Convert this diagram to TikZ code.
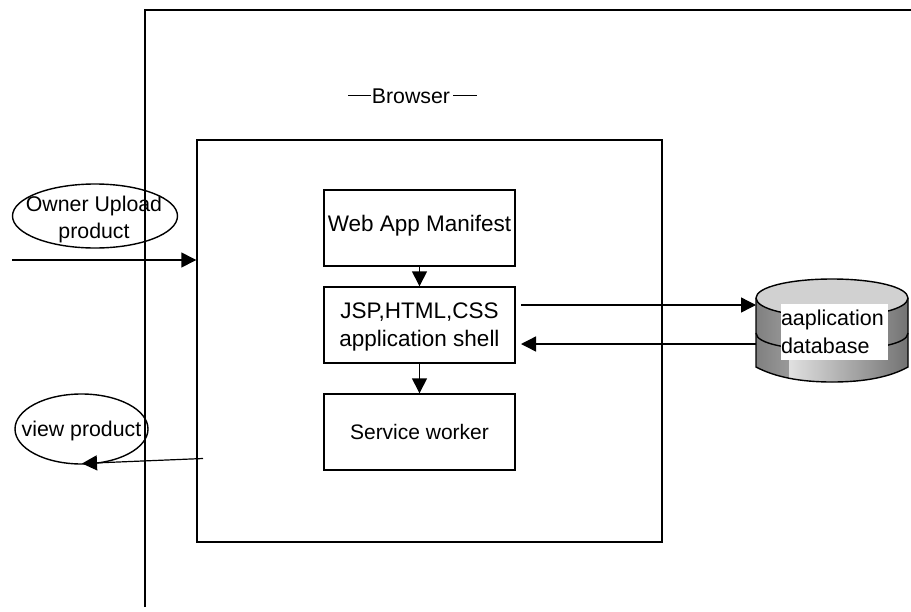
\documentclass[tikz,border=0pt]{standalone}
\usepackage{fontspec}
\setmainfont{Liberation Sans}
\usetikzlibrary{arrows.meta,shapes.geometric}
\tikzset{
  x=1pt,y=-1pt,
  line/.style={draw=black,line width=1.4pt},
  conn/.style={line,-{Triangle[length=15pt,width=15pt]}},
  labelbox/.style={draw=black,line width=1.4pt,fill=white,align=center,minimum width=191pt,minimum height=76pt,inner sep=0pt},
  big/.style={font=\fontsize{22.5}{28}\selectfont},
  oval/.style={ellipse,draw=black,line width=1.4pt,inner sep=0pt,outer sep=0pt},
  txt/.style={align=center,font=\fontsize{21.3}{27}\selectfont,inner sep=0pt}
}
\begin{document}
\begin{tikzpicture}
\useasboundingbox (0,0) rectangle (911,611);
% browser outer frame (open)
\draw[line] (145,607) -- (145,10) -- (911,10);
\node[txt] (browser) at (411,96) {Browser};
\draw[line width=1pt] (348,95) -- (371,95);
\draw[line width=1pt] (453,95) -- (477,95);
% inner box
\node[draw=black,line width=1.4pt,minimum width=465pt,minimum height=402pt,inner sep=0pt] (inner) at (429.5,341) {};
% boxes
\node[labelbox] (manifest) at (419.5,228) {};
\node[txt,big] (manifestt) at (419.5,226) {Web App Manifest};
\node[labelbox] (shell) at (419.5,325) {};
\node[txt,big,align=center] (shellt) at (419.5,327) {JSP,HTML,CSS\\application shell};
\node[labelbox,font=\fontsize{21}{28}\selectfont] (worker) at (419.5,432) {Service worker};
\draw[conn] (manifest) -- (shell);
\draw[conn] (shell) -- (worker);
% ellipses
\node[oval,minimum width=165pt,minimum height=64pt] (owner) at (95,216) {};
\node[txt] (ownert) at (94,219.5) {Owner Upload\\product};
\node[oval,minimum width=133pt,minimum height=70pt] (view) at (81.5,429) {};
\node[txt] (viewt) at (81.5,430.5) {view product};
\coordinate (inleft) at (12,260);
\coordinate (viewout) at (203,458.5);
\coordinate (viewend) at (82,463.5);
\draw[conn] (inleft) -- (inner.west |- inleft);
\draw[line width=1.2pt,-{Triangle[length=15pt,width=15pt]}] (viewout) -- (viewend);
% database
\fill[gray!70!white] (756,298) -- (756,367) .. controls (775,377) and (800,382) .. (832,382) .. controls (865,382) and (890,377) .. (908,367) -- (908,298) -- cycle;
\shade[left color=black!50,right color=black!40] (756,298) -- (756,367) .. controls (765,372) and (778,376) .. (789,378) -- (789,298) -- cycle;
\shade[left color=black!12,right color=black!55] (789,320) -- (789,378) .. controls (803,381) and (818,382) .. (832,382) .. controls (865,382) and (890,377) .. (908,367) -- (908,300) -- cycle;
\fill[black!18] (832,298) ellipse [x radius=76pt,y radius=19pt];
\draw[line] (756,298) .. controls (756,287) and (790,279) .. (832,279) .. controls (874,279) and (908,287) .. (908,298);
\draw[line] (756,298) .. controls (756,309) and (790,317) .. (832,317) .. controls (874,317) and (908,309) .. (908,298);
\draw[line] (756,333) .. controls (756,344) and (790,350) .. (832,350) .. controls (874,350) and (908,344) .. (908,333);
\draw[line] (756,298) -- (756,367) .. controls (775,377) and (800,382) .. (832,382) .. controls (865,382) and (890,377) .. (908,367) -- (908,298);
\node[fill=white,inner sep=0pt,text width=107pt,minimum height=56pt,align=left,font=\fontsize{21.5}{28}\selectfont] (db) at (834.5,332) {aaplication\\database};
\coordinate (dbin) at (756,305);
\coordinate (dbout) at (756,344);
\coordinate (shellout) at (521,305);
\coordinate (shellin) at (521,344);
\draw[conn] (shellout) -- (dbin);
\draw[conn] (dbout) -- (shellin);
\end{tikzpicture}
\end{document}
